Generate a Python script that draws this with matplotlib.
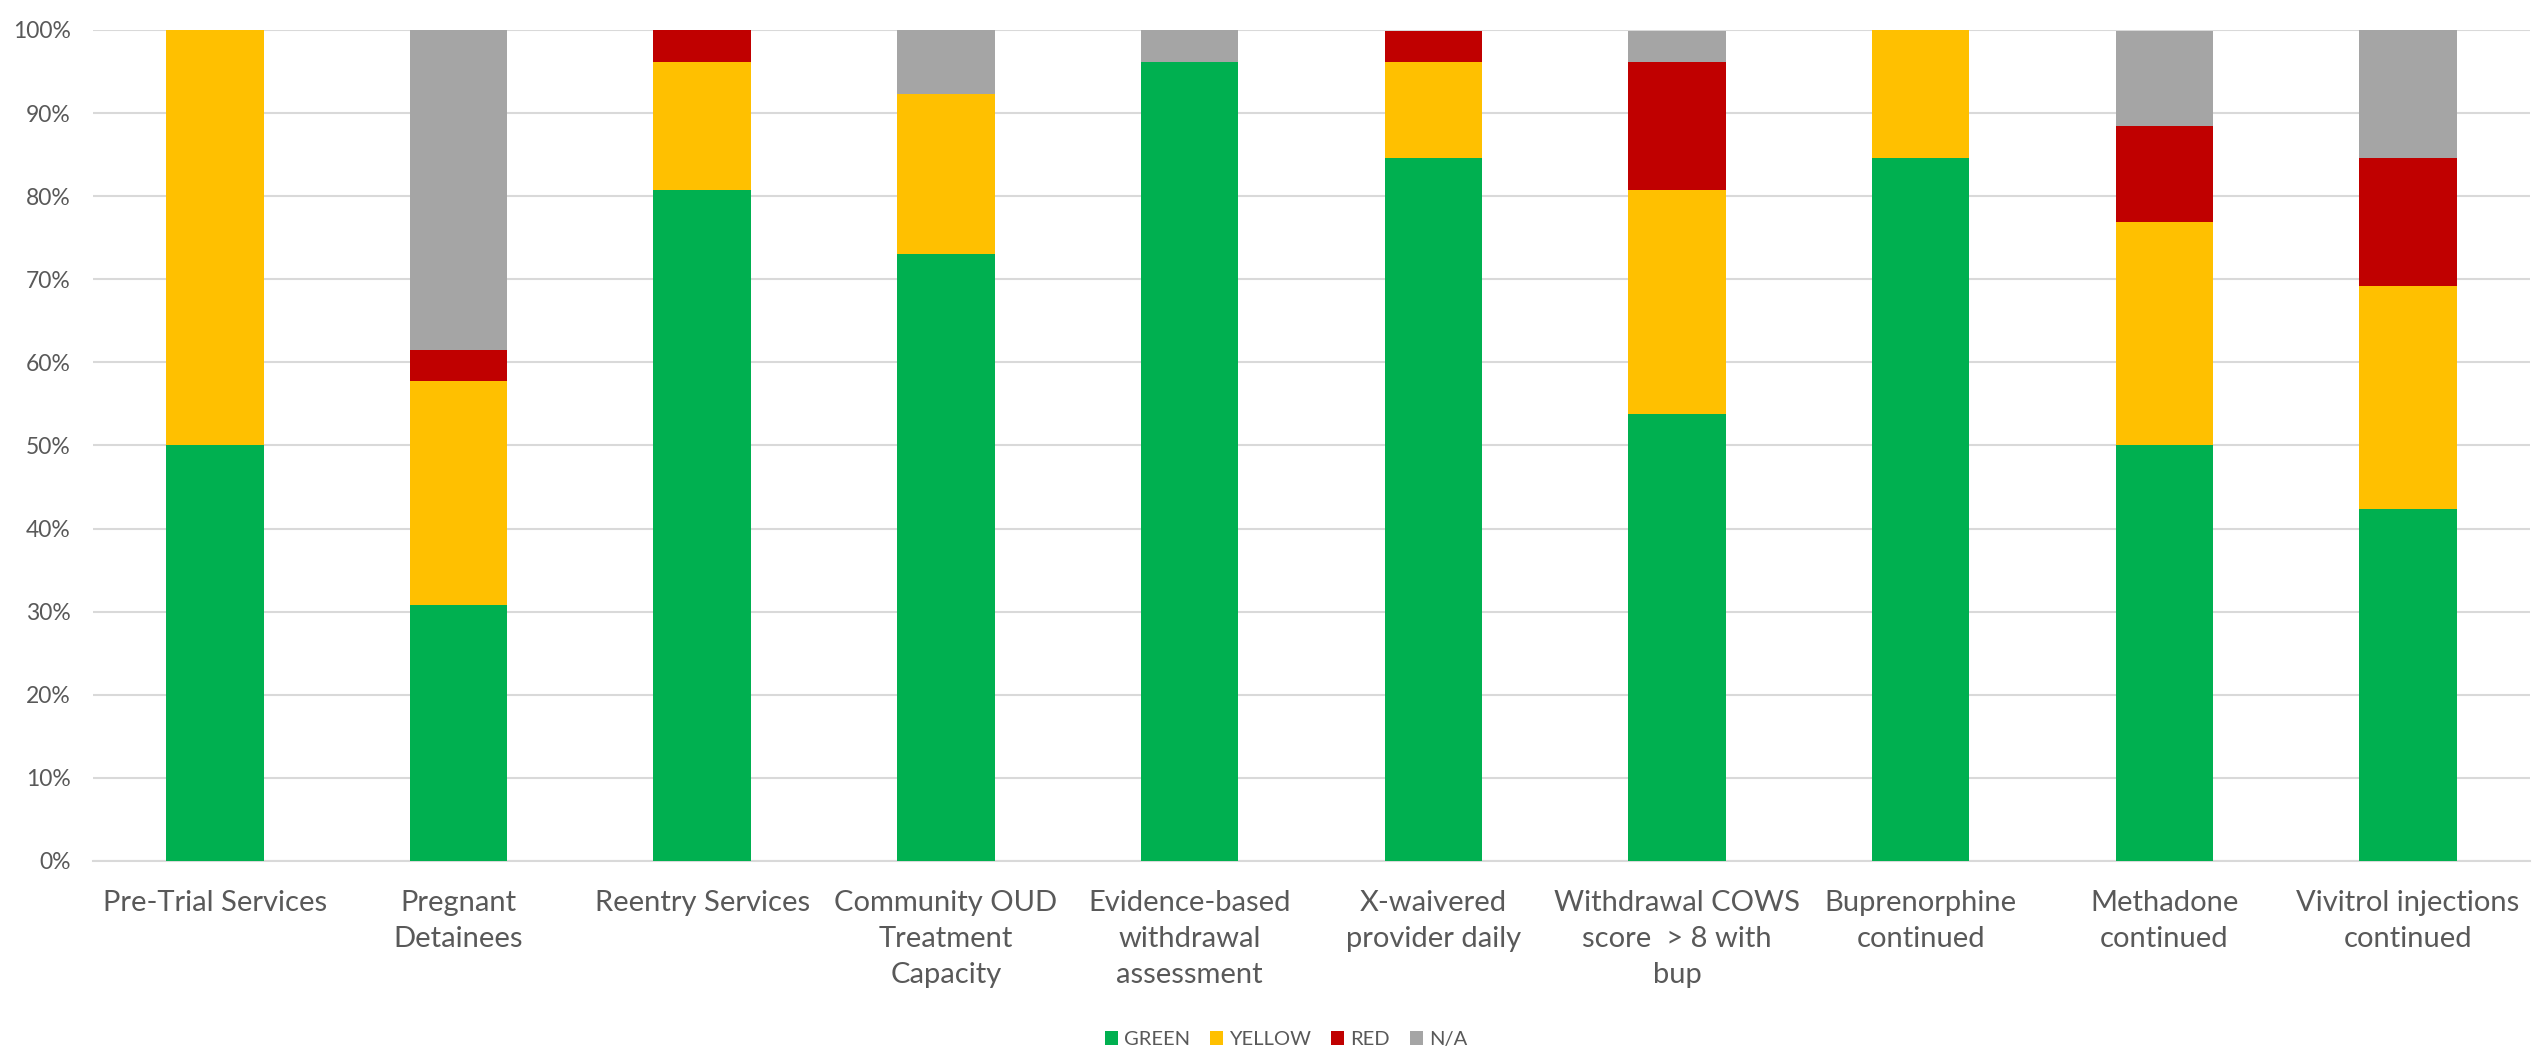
import matplotlib
matplotlib.use("Agg")
import matplotlib.pyplot as plt
import numpy as np
from matplotlib.ticker import PercentFormatter
from matplotlib.patches import Patch

categories = ["Pre-Trial Services", "Pregnant\nDetainees", "Reentry Services",
              "Community OUD\nTreatment\nCapacity", "Evidence-based\nwithdrawal\nassessment",
              "X-waivered\nprovider daily", "Withdrawal COWS\nscore  > 8 with\nbup",
              "Buprenorphine\ncontinued", "Methadone\ncontinued", "Vivitrol injections\ncontinued"]
green = [50.0, 30.8, 80.8, 73.1, 96.2, 84.6, 53.8, 84.6, 50.0, 42.3]
yellow = [50.0, 26.9, 15.4, 19.2, 0.0, 11.5, 26.9, 15.4, 26.9, 26.9]
red = [0.0, 3.8, 3.8, 0.0, 0.0, 3.8, 15.4, 0.0, 11.5, 15.4]
na = [0.0, 38.5, 0.0, 7.7, 3.8, 0.0, 3.8, 0.0, 11.5, 15.4]
series_names = ["GREEN", "YELLOW", "RED", "N/A"]
colors = ["#00B050", "#FFC000", "#C00000", "#A5A5A5"]

plt.rcParams['font.family'] = ['Lato', 'DejaVu Sans']
fig = plt.figure(figsize=(25.34, 10.52), dpi=100)
ax = fig.add_axes([0.0367, 0.1816, 0.9617, 0.7899])

x = np.arange(len(categories))
bottom = np.zeros(len(categories))
for vals, c in zip([green, yellow, red, na], colors):
    v = np.array(vals)
    ax.bar(x, v, bottom=bottom, width=0.4, color=c, zorder=3)
    bottom += v

ax.set_xlim(-0.5, len(categories) - 0.5)
ax.set_ylim(0, 100)
ax.set_yticks(np.arange(0, 101, 10))
ax.yaxis.set_major_formatter(PercentFormatter(decimals=0))
ax.grid(axis='y', color='#D9D9D9', linewidth=1.5, zorder=0)
for s in ['top', 'right', 'left']:
    ax.spines[s].set_visible(False)
ax.spines['bottom'].set_color('#D9D9D9')
ax.spines['bottom'].set_linewidth(1.5)
ax.tick_params(axis='both', length=0, colors='#595959')
ax.tick_params(axis='y', labelsize=16.5, pad=16)
ax.tick_params(axis='x', labelsize=21, pad=21)
ax.set_xticks(x)
ax.set_xticklabels(categories, linespacing=1.47)

handles = [Patch(facecolor=c, label=n) for c, n in zip(colors, series_names)]
fig.legend(handles=handles, loc='center', bbox_to_anchor=(0.5075, 0.012), ncol=4,
           frameon=False, fontsize=14.5, handlelength=0.65, handleheight=0.65,
           handletextpad=0.3, columnspacing=1.0, labelcolor='#595959')

fig.savefig("out.png", dpi=100, facecolor='white')
